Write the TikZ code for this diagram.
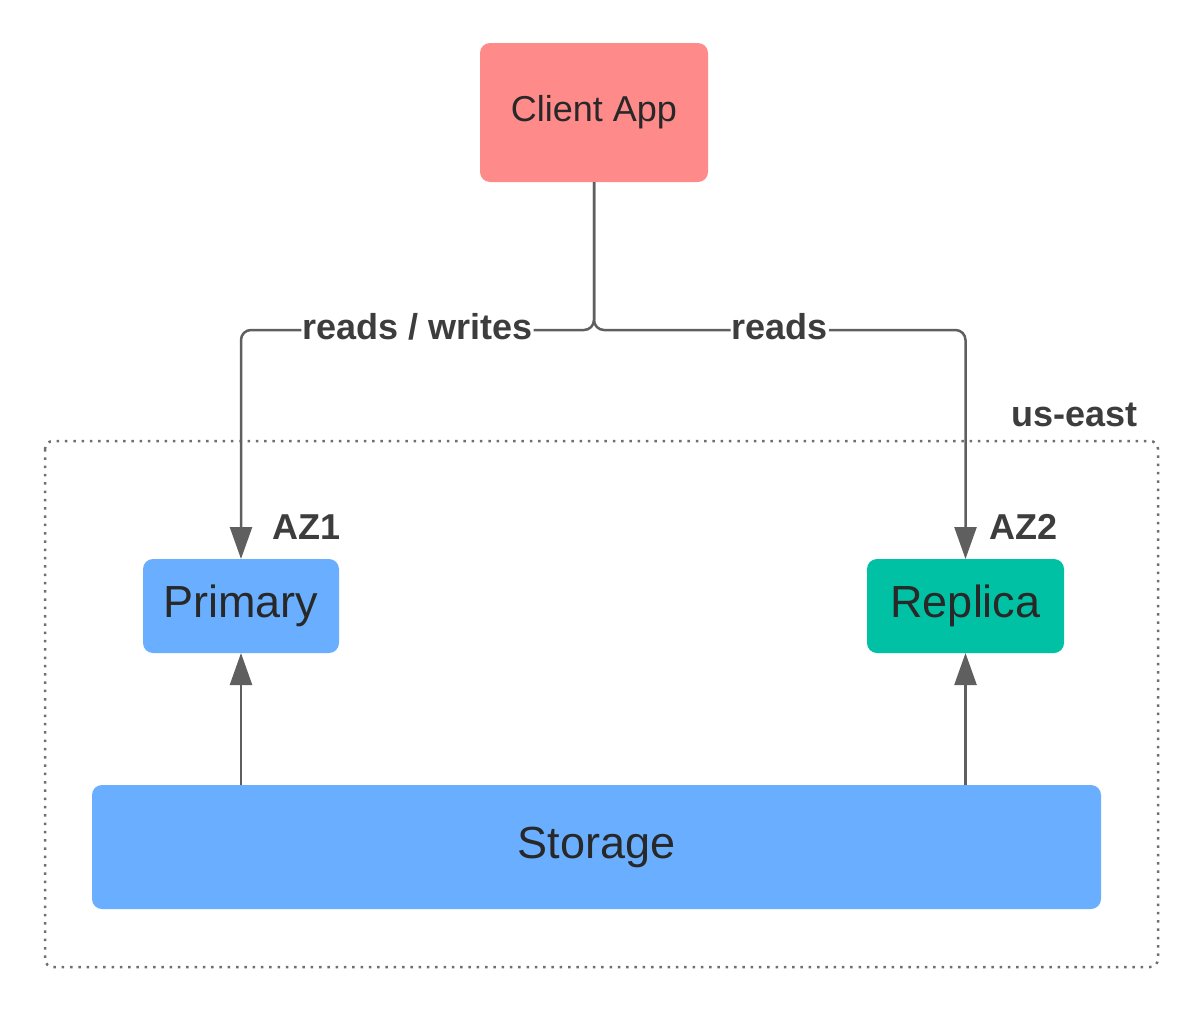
\documentclass[tikz,border=0pt]{standalone}
\usepackage{fontspec}
\setmainfont{Liberation Sans}
\usetikzlibrary{arrows.meta,positioning}
\definecolor{clientred}{HTML}{FF8A8A}
\definecolor{dbblue}{HTML}{6AAFFF}
\definecolor{replteal}{HTML}{00C1A3}
\definecolor{linegray}{HTML}{5F5F5F}
\definecolor{txtgray}{HTML}{282828}
\begin{document}
\begin{tikzpicture}[
x=1pt, y=-1pt,
   box/.style = {rectangle, rounded corners=10pt,% boxes of the diagram
                 inner sep=0pt, outer sep=0pt, text=txtgray},
  link/.style = {draw=linegray, line width=2.5pt, rounded corners=10pt,
                 -{Triangle[width=22pt,length=32pt]}},
   tag/.style = {font=\fontsize{36}{40}\selectfont\bfseries, text=txtgray!90,
                 inner sep=0pt},
  wlbl/.style = {fill=white, inner sep=1pt, yshift=3pt,
                 font=\fontsize{36}{40}\selectfont\bfseries, text=txtgray!90},
                        ]
\useasboundingbox (0,0) rectangle (1200,1010);
% region
\draw[line width=2.5pt, dash pattern=on 2.5pt off 5.8pt, draw=linegray!90,
      rounded corners=8pt] (45,441) rectangle (1158,967);
\node[tag, anchor=east] (region) at (1138,415) {us-east};
% nodes
\node[box, fill=clientred, minimum width=228pt, minimum height=139pt,
      font=\fontsize{36}{40}\selectfont] (client) at (594,112.5) {Client App};
\node[box, fill=dbblue, minimum width=196pt, minimum height=94pt,
      font=\fontsize{45}{50}\selectfont] (primary) at (241,606) {Primary};
\node[box, fill=replteal, minimum width=197pt, minimum height=94pt,
      font=\fontsize{45}{50}\selectfont] (replica) at (965.5,606) {Replica};
\node[box, fill=dbblue, minimum width=1009pt, minimum height=124pt,
      font=\fontsize{45}{50}\selectfont] (storage) at (596.5,847) {Storage};
\node[tag, anchor=west] (az1) at (272,527) {AZ1};
\node[tag, anchor=west] (az2) at (989,527) {AZ2};
% connectors
\draw[link] (client.south) -- ++(0,148) -| node[wlbl, pos=0.25] {reads / writes} (primary.north);
\draw[link] (client.south) -- ++(0,148) -| node[wlbl, pos=0.25] {reads} (replica.north);
\draw[link] (storage.north -| primary.north) -- (primary.south);
\draw[link] (storage.north -| replica.north) -- (replica.south);
\end{tikzpicture}
\end{document}
